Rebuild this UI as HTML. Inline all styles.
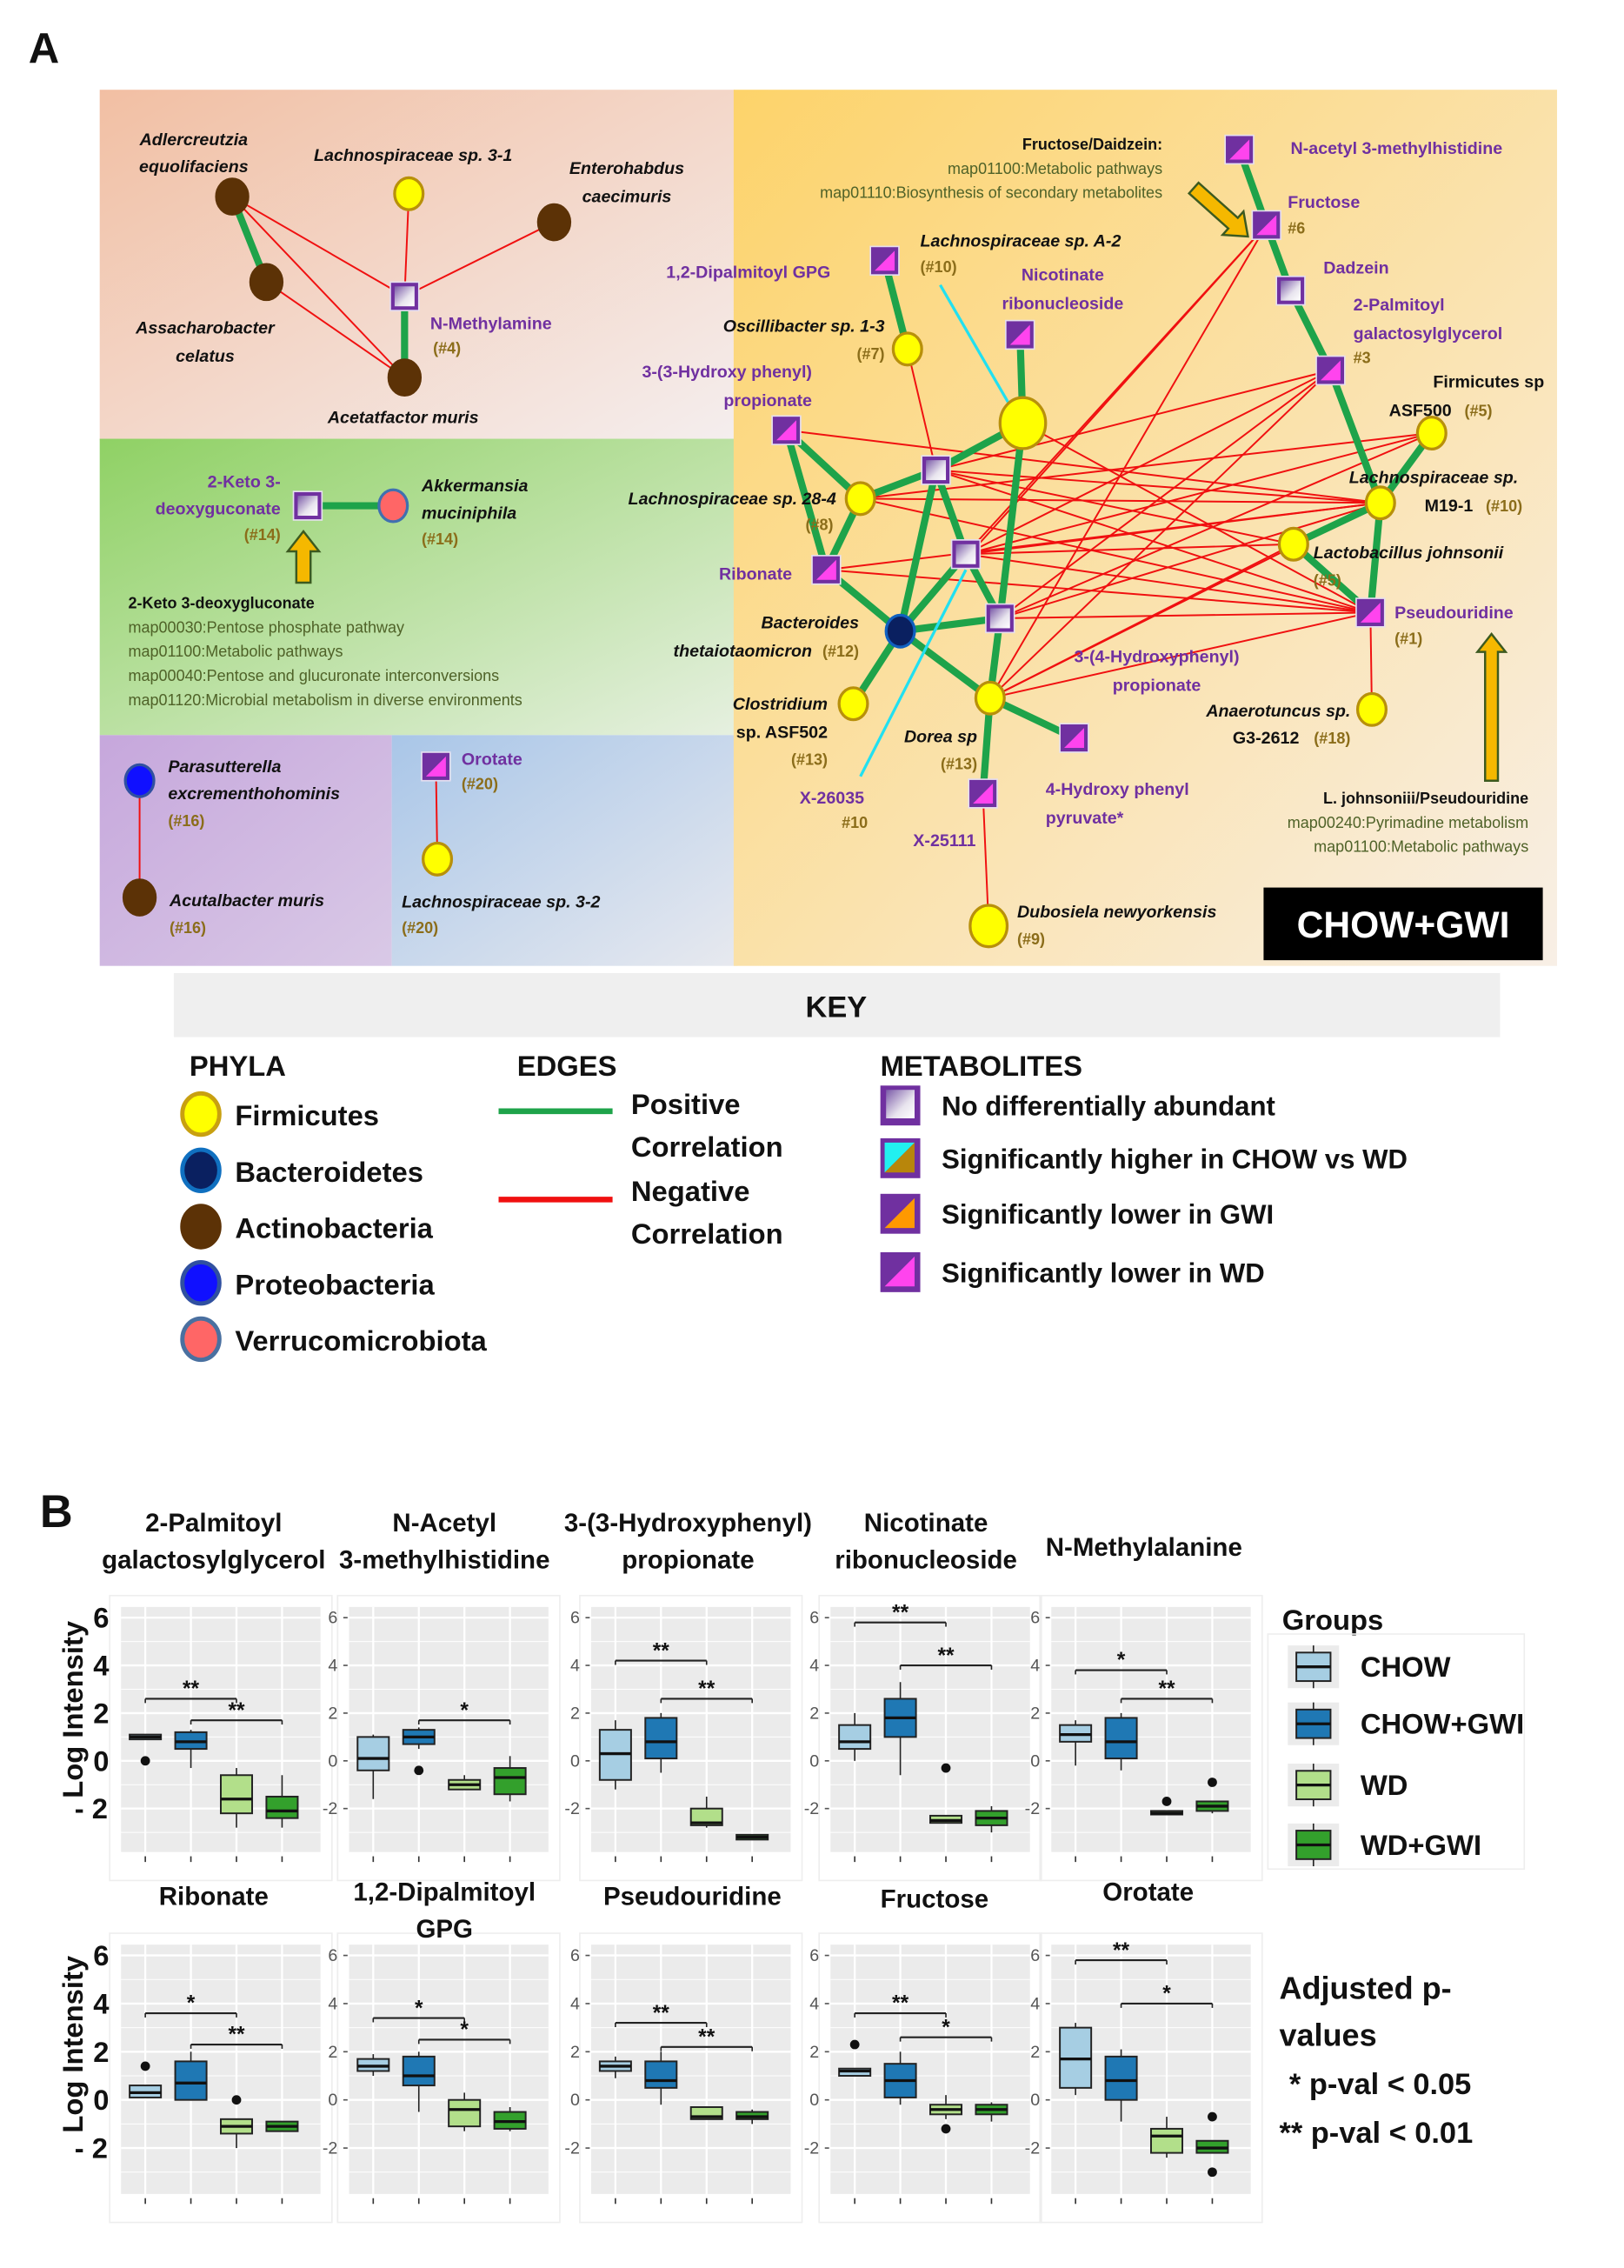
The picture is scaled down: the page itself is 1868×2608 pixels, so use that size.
<!DOCTYPE html>
<html><head><meta charset="utf-8">
<style>
html,body{margin:0;padding:0;background:#fff}
svg{display:block}
text{font-family:"Liberation Sans",sans-serif}
.b{font-weight:bold;font-style:italic;fill:#111}
.m{font-weight:bold;fill:#7030a0}
.o{font-weight:bold;fill:#8b6d1a}
.g{fill:#4f6228}
.k{font-weight:bold;fill:#111}
</style></head>
<body>
<svg id="s" xmlns="http://www.w3.org/2000/svg" width="1868" height="2608" viewBox="0 0 1140 1592" preserveAspectRatio="none">
<defs>
<linearGradient id="gSal" x1="0" y1="0" x2="1" y2="1"><stop offset="0" stop-color="#f2bfa3"/><stop offset="1" stop-color="#f4eeee"/></linearGradient>
<linearGradient id="gGrn" x1="0" y1="0" x2="1" y2="1"><stop offset="0" stop-color="#8fd164"/><stop offset="1" stop-color="#e6f0e0"/></linearGradient>
<linearGradient id="gPur" x1="0" y1="0" x2="1" y2="1"><stop offset="0" stop-color="#c6a7dc"/><stop offset="1" stop-color="#d9c9e6"/></linearGradient>
<linearGradient id="gBlu" x1="0" y1="0" x2="1" y2="1"><stop offset="0" stop-color="#a9c6e8"/><stop offset="1" stop-color="#e7e9ef"/></linearGradient>
<linearGradient id="gOra" x1="0" y1="0" x2="1" y2="1"><stop offset="0" stop-color="#fdd36a"/><stop offset="1" stop-color="#f8efe6"/></linearGradient>
<linearGradient id="gSq" x1="0" y1="0" x2="1" y2="1"><stop offset="0" stop-color="#7a5aa8"/><stop offset="0.6" stop-color="#e8e4ee"/><stop offset="1" stop-color="#ffffff"/></linearGradient>
</defs>
<rect width="1140" height="1592" fill="#fff"/>
<text x="20" y="44" font-size="30" class="k" font-family="Liberation Sans">A</text>
<rect x="70" y="63" width="446" height="246" fill="url(#gSal)"/>
<rect x="70" y="308" width="446" height="208" fill="url(#gGrn)"/>
<rect x="70" y="516" width="205" height="162" fill="url(#gPur)"/>
<rect x="275" y="516" width="243" height="162" fill="url(#gBlu)"/>
<rect x="515" y="63" width="578" height="615" fill="url(#gOra)"/>
<g id="edges"></g>
<g id="nodes"></g>
<g id="labels" font-size="12"></g>
<rect x="887" y="623" width="196" height="51" fill="#000"/>
<text x="985" y="658" font-size="26" font-weight="bold" fill="#fff" text-anchor="middle">CHOW+GWI</text>
<rect x="122" y="683" width="931" height="45" fill="#efefef"/>
<text x="587" y="714" font-size="21" class="k" text-anchor="middle">KEY</text>
<g id="legend"></g>
<text x="28" y="1072" font-size="32" class="k">B</text>
<g id="plots"></g>
</svg>
<script>
const NS="http://www.w3.org/2000/svg";
function el(p,t,a,txt){const e=document.createElementNS(NS,t);for(const k in a)e.setAttribute(k,a[k]);if(txt!=null)e.textContent=txt;document.getElementById(p).appendChild(e);return e;}
const E="edges",N="nodes",L="labels";
// nodes
const P={
Adl:[163,138],L31:[287,136],Ent:[389,156],Ass:[187,198],NMe:[284,208],Ace:[284,265],
K2:[216,355],Akk:[276,355],Par:[98,548],Acu:[98,630],Oro:[306,538],L32:[307,603],
NA:[870,105],Fru:[889,158],Dad:[906,204],Pal:[934,260],ASF:[1005,304],M19:[969,353],Lac:[908,382],Pse:[962,430],Ana:[963,498],
Dip:[621,183],Osc:[637,245],Nic:[716,235],BigY:[718,297],H3:[552,302],g330:[657,330],L28:[604,350],g389:[678,389],Rib:[580,400],Bac:[632,443],g434:[702,434],Clo:[599,494],Dor:[695,490],HPP:[754,518],X25:[690,557],Dub:[694,650]};
function line(a,b,c,w){el(E,"line",{x1:P[a][0],y1:P[a][1],x2:P[b][0],y2:P[b][1],stroke:c,"stroke-width":w});}
const red="#f01010",grn="#1ea34a";
[["Adl","NMe"],["Adl","Ace"],["Ass","Ace"],["L31","NMe"],["Ent","NMe"],["Par","Acu"],["Oro","L32"],["Pse","Ana"],["X25","Dub"],["Osc","g330"],
["H3","M19"],["L28","ASF"],["L28","M19"],["L28","Pse"],["g330","Pal"],["g330","M19"],["g330","Lac"],["g330","Pse"],
["g389","Fru"],["g389","Pal"],["g389","ASF"],["g389","M19"],["g389","Lac"],["g389","Pse"],["g434","Pal"],["g434","ASF"],["g434","M19"],["g434","Pse"],
["Rib","Pse"],["Rib","M19"],["Dor","Fru"],["Dor","Pal"],["Dor","Lac"],["Dor","Pse"],["Dor","M19"],["BigY","Pse"],["Bac","Fru"]].forEach(e=>line(e[0],e[1],red,1.2));
[["Adl","Ass"],["NMe","Ace"],["K2","Akk"],["NA","Fru"],["Fru","Dad"],["Dad","Pal"],["Pal","M19"],["M19","ASF"],["M19","Lac"],["M19","Pse"],["Lac","Pse"],
["Dip","Osc"],["Nic","BigY"],["BigY","g330"],["BigY","g434"],["H3","L28"],["L28","Rib"],["L28","g330"],["g330","Bac"],["g330","g389"],["g389","g434"],
["Rib","Bac"],["Bac","g389"],["Bac","g434"],["Bac","Clo"],["Bac","Dor"],["g434","Dor"],["Dor","HPP"],["Dor","X25"],["H3","Rib"]].forEach(e=>line(e[0],e[1],grn,5));
el(E,"line",{x1:660,y1:200,x2:708,y2:283,stroke:"#22e0f0","stroke-width":2});
el(E,"line",{x1:604,y1:545,x2:678,y2:400,stroke:"#22e0f0","stroke-width":2});
function circ(k,f,s,r){el(N,"ellipse",{cx:P[k][0],cy:P[k][1],rx:r||10,ry:(r||10)*1.12,fill:f,stroke:s,"stroke-width":2});}
function sq(k,type,sz){sz=sz||20;const [x,y]=P[k];const x0=x-sz/2,y0=y-sz/2;
 el(N,"rect",{x:x0,y:y0,width:sz,height:sz,fill:"#7030a0",stroke:"#e6dff0","stroke-width":1});
 if(type=="g"){el(N,"rect",{x:x0+3,y:y0+3,width:sz-6,height:sz-6,fill:"url(#gSq)"});}
 else{el(N,"polygon",{points:`${x0+3},${y0+sz-3} ${x0+sz-3},${y0+3} ${x0+sz-3},${y0+sz-3}`,fill:type=="p"?"#ff44ee":type=="o"?"#ff9900":"#b8860b"});
  if(type=="c")el(N,"polygon",{points:`${x0+3},${y0+3} ${x0+sz-3},${y0+3} ${x0+3},${y0+sz-3}`,fill:"#22f0f0"});}}
const Y="#ffff00",YS="#b8900b",BR="#5c3206";
["L31","Osc","ASF","M19","Lac","Ana","L28","Clo","Dor","L32"].forEach(k=>circ(k,Y,YS,10));
circ("BigY",Y,YS,16);circ("Dub",Y,YS,13);
["Adl","Ent","Ass","Ace","Acu"].forEach(k=>circ(k,BR,BR,11));
circ("Bac","#0a2060","#1060c0",10);circ("Par","#1010ff","#3050a0",10);circ("Akk","#ff6666","#4070b0",10);
["NMe","K2","Dad","g330","g389","g434"].forEach(k=>sq(k,"g"));
["NA","Fru","Pal","Pse","Dip","Nic","H3","Rib","HPP","X25","Oro"].forEach(k=>sq(k,"p"));
// arrows
function arrow(x1,y1,x2,y2,w){const dx=x2-x1,dy=y2-y1,l=Math.hypot(dx,dy),ux=dx/l,uy=dy/l,nx=-uy,ny=ux,h=w*1.1,hl=w*1.4;
 const bx=x2-ux*hl,by=y2-uy*hl;
 const pts=[[x1+nx*w/2,y1+ny*w/2],[bx+nx*w/2,by+ny*w/2],[bx+nx*h,by+ny*h],[x2,y2],[bx-nx*h,by-ny*h],[bx-nx*w/2,by-ny*w/2],[x1-nx*w/2,y1-ny*w/2]];
 el(N,"polygon",{points:pts.map(p=>p.join(",")).join(" "),fill:"#f5b800",stroke:"#3c5a20","stroke-width":1.5});}
arrow(213,409,213,373,10);arrow(1047,548,1047,445,9);arrow(838,132,876,166,10);
// labels
function t(x,y,s,c,a,fs){el(L,"text",{x:x,y:y,class:c,"text-anchor":a||"start","font-size":fs||12},s);}
t(136,102,"Adlercreutzia","b","middle");t(136,121,"equolifaciens","b","middle");
t(290,113,"Lachnospiraceae sp. 3-1","b","middle");
t(440,122,"Enterohabdus","b","middle");t(440,142,"caecimuris","b","middle");
t(144,234,"Assacharobacter","b","middle");t(144,254,"celatus","b","middle");
t(302,231,"N-Methylamine","m");t(304,248,"(#4)","o",null,11);
t(283,297,"Acetatfactor muris","b","middle");
t(197,342,"2-Keto 3-","m","end");t(197,361,"deoxyguconate","m","end");t(197,379,"(#14)","o","end",11);
t(296,345,"Akkermansia","b");t(296,364,"muciniphila","b");t(296,382,"(#14)","o",null,11);
t(90,427,"2-Keto 3-deoxygluconate","k",null,11);
t(90,444,"map00030:Pentose phosphate pathway","g",null,11);t(90,461,"map01100:Metabolic pathways","g",null,11);
t(90,478,"map00040:Pentose and glucuronate interconversions","g",null,11);t(90,495,"map01120:Microbial metabolism in diverse environments","g",null,11);
t(118,542,"Parasutterella","b");t(118,561,"excrementhohominis","b");t(118,580,"(#16)","o",null,11);
t(119,636,"Acutalbacter muris","b");t(119,655,"(#16)","o",null,11);
t(324,537,"Orotate","m");t(324,554,"(#20)","o",null,11);
t(282,637,"Lachnospiraceae sp. 3-2","b");t(282,655,"(#20)","o",null,11);
t(816,105,"Fructose/Daidzein:","k","end",11);t(816,122,"map01100:Metabolic pathways","g","end",11);t(816,139,"map01110:Biosynthesis of secondary metabolites","g","end",11);
t(906,108,"N-acetyl 3-methylhistidine","m");t(904,146,"Fructose","m");t(904,164,"#6","o",null,11);
t(929,192,"Dadzein","m");t(950,218,"2-Palmitoyl","m");t(950,238,"galactosylglycerol","m");t(950,255,"#3","o",null,11);
t(1006,272,"Firmicutes sp","k");t(975,292,"ASF500","k");t(1028,292,"(#5)","o",null,11);
t(947,339,"Lachnospiraceae sp.","b");t(1000,359,"M19-1","k");t(1043,359,"(#10)","o",null,11);
t(922,392,"Lactobacillus johnsonii","b");t(922,411,"(#5)","o",null,11);
t(979,434,"Pseudouridine","m");t(979,452,"(#1)","o",null,11);
t(948,503,"Anaerotuncus sp.","b","end");t(912,522,"G3-2612","k","end");t(948,522,"(#18)","o","end",11);
t(1073,564,"L. johnsoniii/Pseudouridine","k","end",11);t(1073,581,"map00240:Pyrimadine metabolism","g","end",11);t(1073,598,"map01100:Metabolic pathways","g","end",11);
t(646,173,"Lachnospiraceae sp. A-2","b");t(646,191,"(#10)","o",null,11);
t(583,195,"1,2-Dipalmitoyl GPG","m","end");
t(746,197,"Nicotinate","m","middle");t(746,217,"ribonucleoside","m","middle");
t(621,233,"Oscillibacter sp. 1-3","b","end");t(621,252,"(#7)","o","end",11);
t(570,265,"3-(3-Hydroxy phenyl)","m","end");t(570,285,"propionate","m","end");
t(587,354,"Lachnospiraceae sp. 28-4","b","end");t(585,372,"(#8)","o","end",11);
t(556,407,"Ribonate","m","end");
t(603,441,"Bacteroides","b","end");t(570,461,"thetaiotaomicron","b","end");t(603,461,"(#12)","o","end",11);
t(812,465,"3-(4-Hydroxyphenyl)","m","middle");t(812,485,"propionate","m","middle");
t(581,498,"Clostridium","b","end");t(581,518,"sp. ASF502","k","end");t(581,537,"(#13)","o","end",11);
t(686,521,"Dorea sp","b","end");t(686,540,"(#13)","o","end",11);
t(584,564,"X-26035","m","middle");t(600,581,"#10","o","middle",11);
t(734,558,"4-Hydroxy phenyl","m");t(734,578,"pyruvate*","m");
t(663,594,"X-25111","m","middle");
t(714,644,"Dubosiela newyorkensis","b");t(714,663,"(#9)","o",null,11);
// legend
const G="legend";
function lt(x,y,s,fs){el(G,"text",{x:x,y:y,class:"k","font-size":fs||20},s);}
lt(133,755,"PHYLA");lt(363,755,"EDGES");lt(618,755,"METABOLITES");
[["Firmicutes","#ffff00","#c8a010"],["Bacteroidetes","#0a2060","#1070c0"],["Actinobacteria","#5c3206","#5c3206"],["Proteobacteria","#1010ff","#3050a0"],["Verrucomicrobiota","#ff6666","#4a70a0"]].forEach((d,i)=>{
 const y=782+i*39.5;el(G,"ellipse",{cx:141,cy:y,rx:13,ry:14.5,fill:d[1],stroke:d[2],"stroke-width":3});lt(165,y+8,d[0]);});
el(G,"line",{x1:350,y1:780,x2:430,y2:780,stroke:"#1ea34a","stroke-width":4});
el(G,"line",{x1:350,y1:842,x2:430,y2:842,stroke:"#f01010","stroke-width":4});
lt(443,782,"Positive");lt(443,812,"Correlation");lt(443,843,"Negative");lt(443,873,"Correlation");
[["No differentially abundant","g"],["Significantly higher in CHOW vs WD","c"],["Significantly lower in GWI","o"],["Significantly lower in WD","p"]].forEach((d,i)=>{
 const y=[776,813,852,893][i];const x0=618,sz=28,y0=y-sz/2;
 el(G,"rect",{x:x0,y:y0,width:sz,height:sz,fill:"#7030a0"});
 if(d[1]=="g")el(G,"rect",{x:x0+4,y:y0+3,width:sz-8,height:sz-8,fill:"url(#gSq)"});
 else{el(G,"polygon",{points:`${x0+3},${y0+sz-4} ${x0+sz-4},${y0+3} ${x0+sz-4},${y0+sz-4}`,fill:d[1]=="p"?"#ff44ee":d[1]=="o"?"#ff9900":"#b8860b"});
  if(d[1]=="c")el(G,"polygon",{points:`${x0+3},${y0+3} ${x0+sz-4},${y0+3} ${x0+3},${y0+sz-4}`,fill:"#22f0f0"});}
 lt(661,y+7,d[0],19);});
// plots
const PL="plots";
function pt(x,y,s,fs,a,c,w){el(PL,"text",{x:x,y:y,"font-size":fs,"text-anchor":a||"middle",fill:c||"#111","font-weight":w||"bold"},s);}
const cols=["#a6cee3","#1f78b4","#b2df8a","#33a02c"];
const pxs=[85,245,415,583,738];
const rows=[{top:1128,bot:1300,y0:1236,tick:1303},{top:1365,bot:1540,y0:1474,tick:1543}];
const data=[
[[[1,0.9,1.1,0.9,1.1,[0]],[0.8,0.5,1.2,-0.3,1.3,[]],[-1.6,-2.2,-0.6,-2.8,-0.3,[]],[-2.1,-2.4,-1.5,-2.8,-0.6,[]]],[[1,3,2.6,"**"],[2,4,1.7,"**"]]],
[[[0.1,-0.4,1,-1.6,1.1,[]],[1,0.7,1.3,0.5,1.4,[-0.4]],[-1,-1.2,-0.8,-1.2,-0.6,[]],[-0.7,-1.4,-0.3,-1.7,0.2,[]]],[[2,4,1.7,"*"]]],
[[[0.3,-0.8,1.3,-1.2,1.7,[]],[0.8,0.1,1.8,-0.5,2,[]],[-2.6,-2.7,-2,-2.8,-1.5,[]],[-3.2,-3.3,-3.1,-3.3,-3.1,[]]],[[1,3,4.2,"**"],[2,4,2.6,"**"]]],
[[[0.8,0.5,1.5,0,2,[]],[1.8,1,2.6,-0.6,3.3,[]],[-2.5,-2.6,-2.3,-2.6,-2.3,[-0.3]],[-2.4,-2.7,-2.1,-3,-1.9,[]]],[[1,3,5.8,"**"],[2,4,4,"**"]]],
[[[1.1,0.8,1.5,-0.2,1.7,[]],[0.8,0.1,1.8,-0.4,2,[]],[-2.2,-2.25,-2.1,-2.25,-2.1,[-1.7]],[-1.9,-2.1,-1.7,-2.2,-1.8,[-0.9]]],[[1,3,3.8,"*"],[2,4,2.6,"**"]]],
[[[0.3,0.1,0.6,0.1,0.6,[1.4]],[0.7,0,1.6,0,2,[]],[-1.1,-1.4,-0.8,-2,-0.8,[0]],[-1.1,-1.3,-0.9,-1.3,-0.9,[]]],[[1,3,3.6,"*"],[2,4,2.3,"**"]]],
[[[1.4,1.2,1.7,1,1.9,[]],[1,0.6,1.8,-0.5,2,[]],[-0.4,-1.1,0,-1.3,0.3,[]],[-0.9,-1.2,-0.5,-1.3,-0.3,[]]],[[1,3,3.4,"*"],[2,4,2.5,"*"]]],
[[[1.4,1.2,1.6,0.9,1.8,[]],[0.8,0.5,1.6,-0.2,2,[]],[-0.7,-0.8,-0.3,-0.8,-0.3,[]],[-0.7,-0.8,-0.5,-1,-0.4,[]]],[[1,3,3.2,"**"],[2,4,2.2,"**"]]],
[[[1.2,1,1.3,1,1.3,[2.3]],[0.8,0.1,1.5,-0.2,2,[]],[-0.4,-0.6,-0.2,-0.8,0.2,[-1.2]],[-0.4,-0.6,-0.2,-0.9,-0.1,[]]],[[1,3,3.6,"**"],[2,4,2.6,"*"]]],
[[[1.7,0.5,3,0.2,3.2,[]],[0.8,0,1.8,-0.9,2.1,[]],[-1.5,-2.2,-1.2,-2.4,-0.7,[]],[-2,-2.2,-1.7,-2.2,-1.7,[-0.7,-3]]],[[1,3,5.8,"**"],[2,4,4,"*"]]]];
for(let r=0;r<2;r++){const R=rows[r];const u=(r==0?16.75:16.9);
 for(let c=0;c<5;c++){const x0=pxs[c],w=140;const d=data[r*5+c];
  el(PL,"rect",{x:x0-8,y:R.top-8,width:w+16,height:R.bot-R.top+28,fill:"none",stroke:"#eee","stroke-width":1});
  el(PL,"rect",{x:x0,y:R.top,width:w,height:R.bot-R.top,fill:"#ebebeb"});
  const Y=v=>R.y0-v*u;
  for(let v=-4;v<=6;v++){const yy=Y(v);if(yy<R.top||yy>R.bot)continue;el(PL,"line",{x1:x0,y1:yy,x2:x0+w,y2:yy,stroke:"#fff","stroke-width":v%2==0?1.4:0.6});}
  const gx=i=>x0+17+i*32;
  for(let i=0;i<4;i++){el(PL,"line",{x1:gx(i),y1:R.top,x2:gx(i),y2:R.bot,stroke:"#fff","stroke-width":1.4});el(PL,"line",{x1:gx(i),y1:R.bot+3,x2:gx(i),y2:R.bot+7,stroke:"#333","stroke-width":1});}
  if(c>0){[-2,0,2,4,6].forEach(v=>{pt(x0-8,Y(v)+4,""+v,12,"end","#555","normal");el(PL,"line",{x1:x0-4,y1:Y(v),x2:x0-1,y2:Y(v),stroke:"#555"});});}
  d[0].forEach((b,i)=>{const cx=gx(i),bw=22;
   el(PL,"line",{x1:cx,y1:Y(b[3]),x2:cx,y2:Y(b[4]),stroke:"#222","stroke-width":1});
   el(PL,"rect",{x:cx-bw/2,y:Y(b[2]),width:bw,height:Math.max(2,Y(b[1])-Y(b[2])),fill:cols[i],stroke:"#222","stroke-width":1.2});
   el(PL,"line",{x1:cx-bw/2,y1:Y(b[0]),x2:cx+bw/2,y2:Y(b[0]),stroke:"#111","stroke-width":2});
   b[5].forEach(o=>el(PL,"circle",{cx:cx,cy:Y(o),r:3.3,fill:"#111"}));});
  d[1].forEach(s=>{const yy=Y(s[2]);el(PL,"line",{x1:gx(s[0]-1),y1:yy,x2:gx(s[1]-1),y2:yy,stroke:"#222","stroke-width":1.3});
   el(PL,"line",{x1:gx(s[0]-1),y1:yy,x2:gx(s[0]-1),y2:yy+3,stroke:"#222"});el(PL,"line",{x1:gx(s[1]-1),y1:yy,x2:gx(s[1]-1),y2:yy+3,stroke:"#222"});
   pt((gx(s[0]-1)+gx(s[1]-1))/2,yy-2,s[3],15);});
 }
 // y axis label
 const cy=r==0?1200:1435;
 el(PL,"text",{x:0,y:0,transform:`translate(58,${cy}) rotate(-90)`,"font-size":20,"text-anchor":"middle","font-weight":"bold",fill:"#111"},"Log Intensity");
 [6,4,2,0].forEach(v=>pt(71,R.y0-v*(r==0?16.75:16.9)+7,""+v,20,"middle"));
 pt(64,R.y0+2*(r==0?16.75:16.9)+7,"- 2",20,"middle");
}
pt(150,1075,"2-Palmitoyl",18);pt(150,1101,"galactosylglycerol",18);
pt(312,1075,"N-Acetyl",18);pt(312,1101,"3-methylhistidine",18);
pt(483,1075,"3-(3-Hydroxyphenyl)",18);pt(483,1101,"propionate",18);
pt(650,1075,"Nicotinate",18);pt(650,1101,"ribonucleoside",18);
pt(803,1092,"N-Methylalanine",18);
pt(150,1337,"Ribonate",18);pt(312,1334,"1,2-Dipalmitoyl",18);pt(312,1360,"GPG",18);
pt(486,1337,"Pseudouridine",18);pt(656,1339,"Fructose",18);pt(806,1334,"Orotate",18);
pt(900,1144,"Groups",20,"start");
el(PL,"rect",{x:890,y:1147,width:180,height:165,fill:"none",stroke:"#eee"});
["CHOW","CHOW+GWI","WD","WD+GWI"].forEach((s,i)=>{const y=[1170,1210,1253,1295][i];
 el(PL,"rect",{x:904,y:y-15,width:36,height:30,fill:"#ebebeb"});
 el(PL,"line",{x1:922,y1:y-15,x2:922,y2:y+15,stroke:"#222"});
 el(PL,"rect",{x:910,y:y-10,width:24,height:20,fill:cols[i],stroke:"#222","stroke-width":1.2});
 el(PL,"line",{x1:910,y1:y,x2:934,y2:y,stroke:"#111","stroke-width":2});
 pt(955,y+7,s,20,"start");});
pt(898,1403,"Adjusted p-",22,"start");pt(898,1436,"values",22,"start");
pt(905,1470,"*  p-val < 0.05",21,"start");pt(898,1504,"** p-val < 0.01",21,"start");
</script>
</body></html>
